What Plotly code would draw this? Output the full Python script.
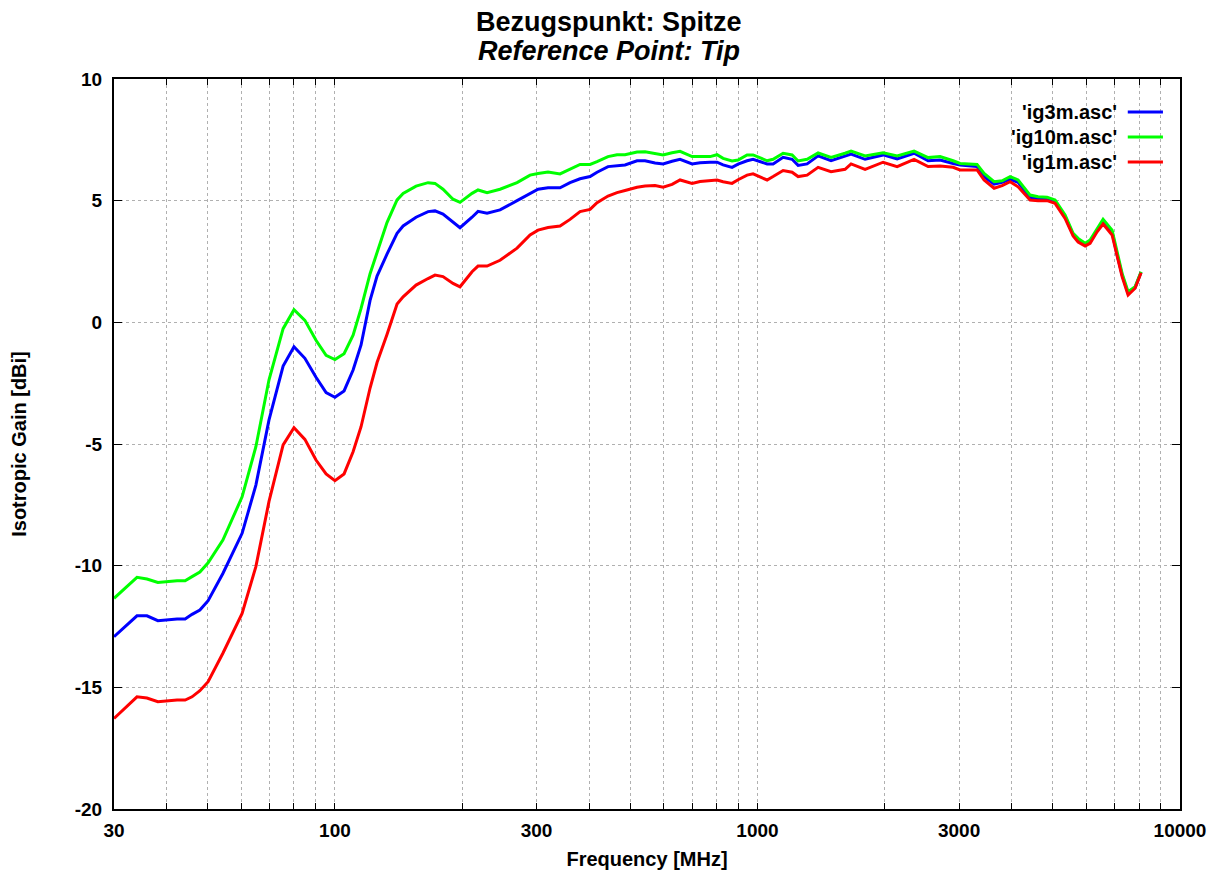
import plotly.graph_objects as go

freq_mhz = [30.0, 34.0, 35.9, 38.1, 42.3, 44.2, 45.9, 47.9, 50.1, 54.3, 60.3, 65.0, 69.8, 75.4, 80.0,
            84.9, 90.2, 95.3, 100.0, 105.1, 110.4, 115.3, 121.1, 125.8, 132.8, 140.3, 145.0, 155.6, 166.1,
            172.5, 180.2, 190.3, 197.7, 211.1, 218.1, 229.1, 245.9, 269.8, 289.6, 302.5, 319.4, 341.0, 360.1,
            380.3, 401.6, 417.2, 442.9, 465.2, 485.9, 518.8, 542.0, 572.3, 597.9, 627.9, 655.9, 700.2, 731.4,
            772.4, 802.4, 829.1, 870.7, 899.6, 944.9, 976.3, 1053.9, 1088.9, 1149.9, 1207.7, 1247.9, 1310.6,
            1391.6, 1493.3, 1611.8, 1665.4, 1797.7, 1983.2, 2140.7, 2347.7, 2534.1, 2705.0, 2903.8, 3016.4,
            3309, 3438, 3631, 3793, 3962, 4138, 4418, 4615, 4846, 5062, 5346, 5585, 5739, 5962, 6126, 6365,
            6576, 6907, 7098, 7294, 7536, 7829, 8089]

gain_3m = [-12.92, -12.06, -12.06, -12.26, -12.19, -12.19, -12.0, -11.82, -11.44, -10.32, -8.67, -6.69, -4.02,
           -1.80, -1.0, -1.48, -2.26, -2.89, -3.08, -2.82, -1.96, -0.93, 0.9, 1.9, 2.8, 3.66, 3.96, 4.32, 4.55,
           4.58, 4.45, 4.10, 3.89, 4.32, 4.56, 4.48, 4.62, 5.0, 5.30, 5.47, 5.53, 5.53, 5.74, 5.90, 5.99, 6.17,
           6.40, 6.45, 6.47, 6.64, 6.64, 6.55, 6.51, 6.62, 6.70, 6.51, 6.56, 6.58, 6.58, 6.47, 6.37, 6.50, 6.64,
           6.70, 6.51, 6.51, 6.78, 6.70, 6.45, 6.51, 6.84, 6.64, 6.85, 6.91, 6.70, 6.88, 6.72, 6.95, 6.64, 6.67,
           6.53, 6.47, 6.40, 5.99, 5.68, 5.75, 5.88, 5.75, 5.14, 5.08, 5.07, 4.96, 4.34, 3.60, 3.35, 3.20, 3.30,
           3.79, 4.13, 3.69, 2.77, 1.95, 1.19, 1.43, 2.06]

gain_10m = [-11.34, -10.48, -10.55, -10.69, -10.62, -10.62, -10.45, -10.26, -9.88, -8.95, -7.17, -5.11, -2.37,
            -0.26, 0.52, 0.08, -0.74, -1.36, -1.53, -1.29, -0.53, 0.57, 2.0, 2.9, 4.1, 5.03, 5.30, 5.60, 5.74,
            5.71, 5.47, 5.06, 4.93, 5.30, 5.44, 5.33, 5.47, 5.74, 6.05, 6.12, 6.18, 6.10, 6.29, 6.49, 6.49, 6.60,
            6.81, 6.89, 6.89, 7.0, 7.01, 6.95, 6.88, 6.97, 7.03, 6.81, 6.81, 6.81, 6.89, 6.74, 6.63, 6.67, 6.88,
            6.88, 6.64, 6.70, 6.95, 6.88, 6.63, 6.70, 6.96, 6.78, 6.95, 7.04, 6.84, 6.97, 6.84, 7.04, 6.77, 6.81,
            6.64, 6.53, 6.49, 6.12, 5.78, 5.82, 5.99, 5.85, 5.23, 5.16, 5.14, 5.03, 4.41, 3.66, 3.45, 3.25, 3.38,
            3.86, 4.23, 3.79, 2.84, 2.01, 1.26, 1.46, 2.08]

gain_1m = [-16.28, -15.39, -15.44, -15.59, -15.52, -15.52, -15.39, -15.14, -14.77, -13.60, -11.96, -10.04, -7.37,
           -5.04, -4.33, -4.81, -5.66, -6.23, -6.51, -6.23, -5.32, -4.29, -2.7, -1.65, -0.5, 0.75, 1.05, 1.53, 1.80,
           1.94, 1.88, 1.60, 1.46, 2.08, 2.31, 2.31, 2.55, 3.05, 3.59, 3.79, 3.90, 3.96, 4.23, 4.55, 4.64, 4.92,
           5.19, 5.33, 5.42, 5.55, 5.60, 5.62, 5.55, 5.67, 5.85, 5.71, 5.79, 5.83, 5.85, 5.78, 5.71, 5.86, 6.05,
           6.10, 5.85, 5.99, 6.24, 6.17, 5.99, 6.05, 6.37, 6.19, 6.29, 6.51, 6.29, 6.58, 6.40, 6.70, 6.40, 6.42,
           6.37, 6.26, 6.26, 5.85, 5.51, 5.62, 5.78, 5.57, 5.03, 5.00, 5.00, 4.89, 4.27, 3.55, 3.30, 3.14, 3.25,
           3.72, 4.04, 3.59, 2.70, 1.88, 1.12, 1.40, 2.04]

series_names = ["'ig3m.asc'", "'ig10m.asc'", "'ig1m.asc'"]
series_colors = ["#0000ff", "#00ff00", "#ff0000"]
series_values = [gain_3m, gain_10m, gain_1m]

title_lines = ["<b>Bezugspunkt: Spitze</b>", "<b><i>Reference Point: Tip</i></b>"]

x_labels = {30: "30", 100: "100", 300: "300", 1000: "1000", 3000: "3000", 10000: "10000"}
x_tickvals = [30, 40, 50, 60, 70, 80, 90, 100, 200, 300, 400, 500, 600, 700, 800, 900,
              1000, 2000, 3000, 4000, 5000, 6000, 7000, 8000, 9000, 10000]
y_tickvals = [-20, -15, -10, -5, 0, 5, 10]

font_family = "Liberation Sans, Arial, sans-serif"

fig = go.Figure()
for name, color, vals in zip(series_names, series_colors, series_values):
    fig.add_trace(go.Scatter(x=freq_mhz, y=vals, mode="lines", name=name,
                             line=dict(color=color, width=3), showlegend=False))

# gnuplot-style legend: text right-aligned, sample line on the right
legend_y = [0.9548, 0.9205, 0.8863]
for name, color, ly in zip(series_names, series_colors, legend_y):
    fig.add_annotation(xref="paper", yref="paper", x=0.943, y=ly, text="<b>%s</b>" % name,
                       showarrow=False, xanchor="right", yanchor="middle",
                       font=dict(family=font_family, size=20, color="black"))
    fig.add_shape(type="line", xref="paper", yref="paper", x0=0.951, x1=0.984, y0=ly, y1=ly,
                  line=dict(color=color, width=3))

# two-line title, centred on the page
for txt, ty in zip(title_lines, [1.0781, 1.0384]):
    fig.add_annotation(xref="paper", yref="paper", x=0.4648, y=ty, text=txt, showarrow=False,
                       xanchor="center", yanchor="middle",
                       font=dict(family=font_family, size=27, color="black"))

fig.update_layout(
    width=1203, height=862,
    paper_bgcolor="white", plot_bgcolor="white",
    margin=dict(l=106, r=31, t=71, b=61, autoexpand=False),
    font=dict(family=font_family, size=20, color="black"),
)

fig.update_xaxes(type="log", range=[1.47712, 4.0], tickvals=x_tickvals,
                 ticktext=["<b>%s</b>" % x_labels[v] if v in x_labels else "" for v in x_tickvals],
                 ticks="inside", ticklen=6, tickcolor="black", showline=True, linecolor="black",
                 linewidth=2, mirror="ticks", showgrid=True, gridcolor="#b0b0b0", griddash="dot",
                 gridwidth=1, zeroline=False, automargin=False, ticklabelstandoff=3,
                 title=dict(text="<b>Frequency [MHz]</b>", standoff=14, font=dict(size=20)),
                 tickfont=dict(size=19))
fig.update_yaxes(range=[-20, 10], tickvals=y_tickvals,
                 ticktext=["<b>%d</b>" % v for v in y_tickvals],
                 ticks="inside", ticklen=8, tickcolor="black", showline=True, linecolor="black",
                 linewidth=2, mirror="ticks", showgrid=True, gridcolor="#b0b0b0", griddash="dot",
                 gridwidth=1, zeroline=False, automargin=False, ticklabelstandoff=6,
                 title=dict(text="<b>Isotropic Gain [dBi]</b>", standoff=45, font=dict(size=20)),
                 tickfont=dict(size=19))

fig.write_html("out.html")
